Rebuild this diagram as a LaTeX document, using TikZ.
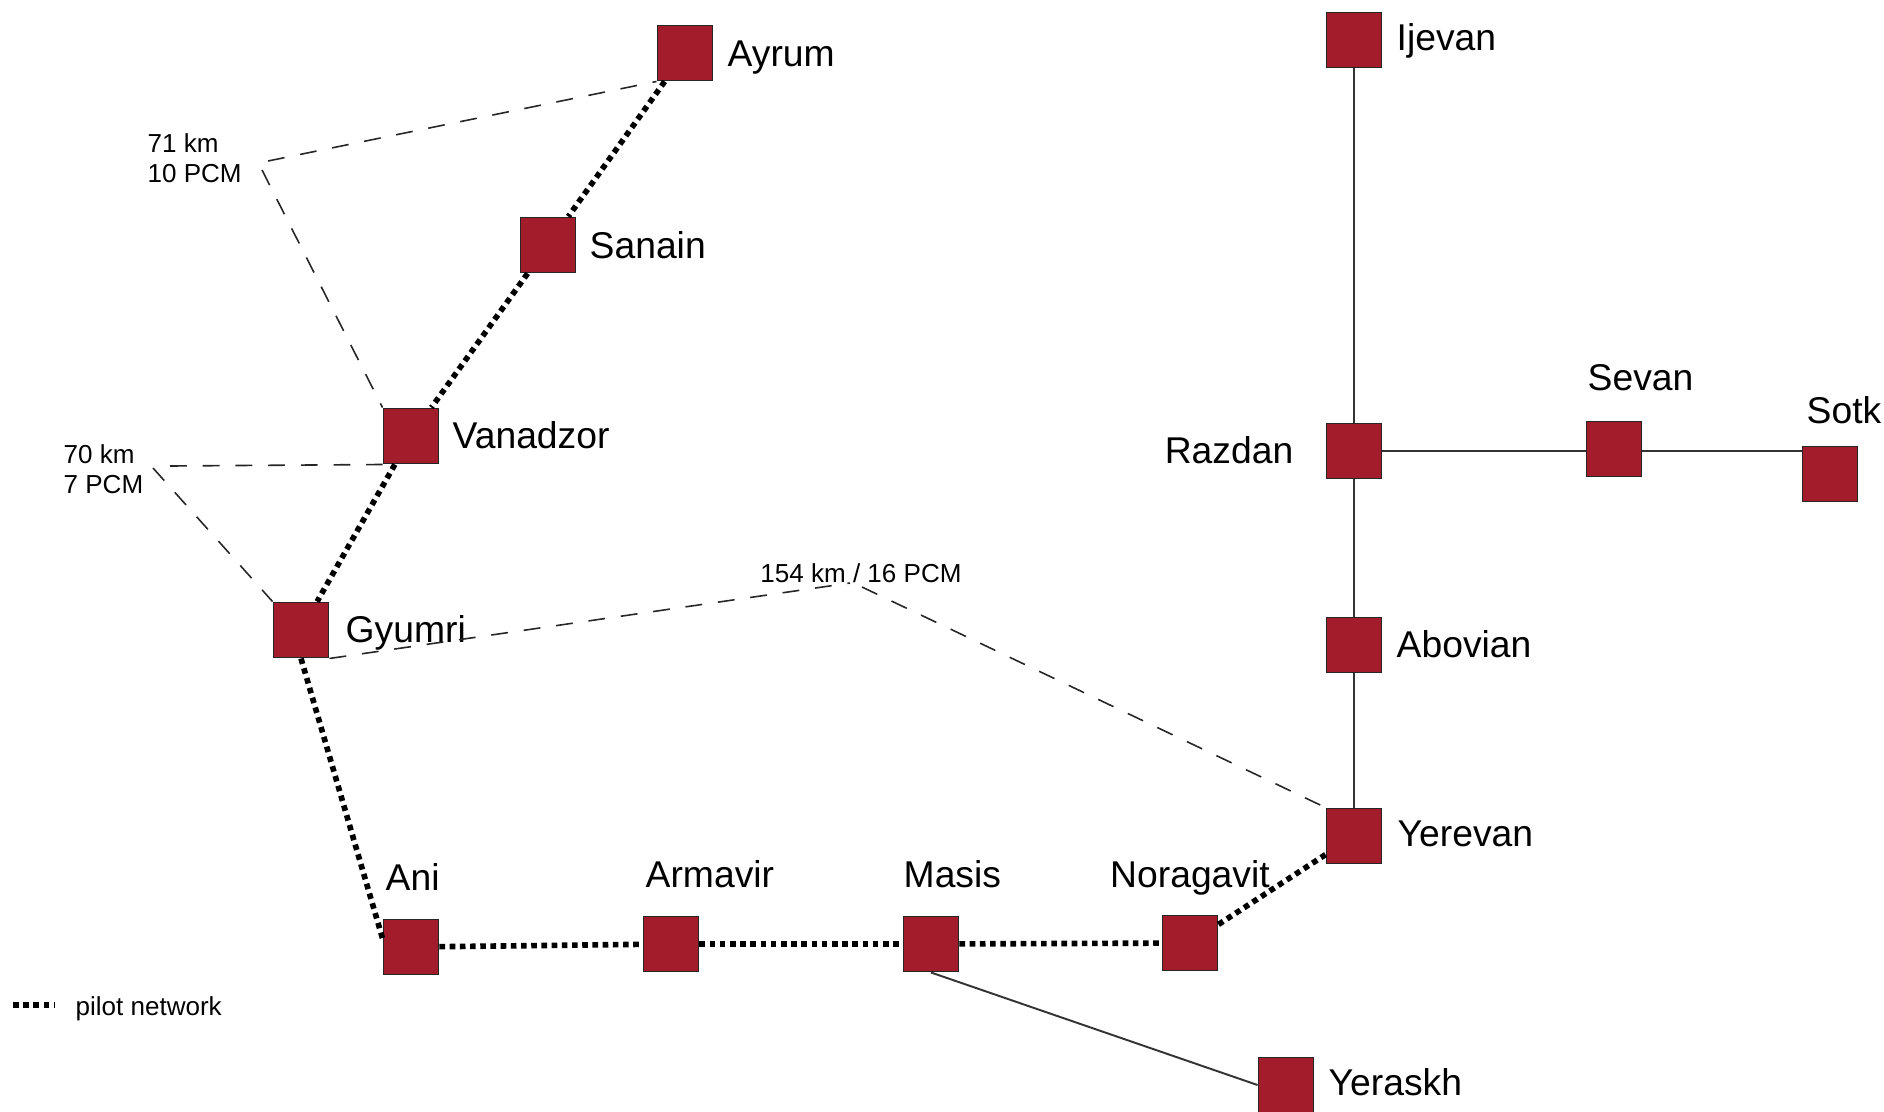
\documentclass[tikz,border=0pt]{standalone}
\usepackage{fontspec}
\setmainfont{Liberation Sans}
\usepackage{xcolor}
\usetikzlibrary{calc}
\definecolor{townred}{RGB}{163,28,43}

\begin{document}
\begin{tikzpicture}[x=0.01cm, y=-0.01cm,
    town/.style={draw=black!85, line width=0.4pt, fill=townred, minimum size=0.555cm, inner sep=0pt},
    townname/.style={inner sep=0pt, font=\fontsize{10.6}{12.7}\selectfont},
    dist/.style={inner sep=0pt, align=left, font=\fontsize{7.4}{8.5}\selectfont},
    road/.style={line width=0.55pt, black!80},
    pilot/.style={line width=1.6pt, dash pattern=on 1.6pt off 1.3pt},
    link/.style={line width=0.45pt, black!85, dash pattern=on 4.8pt off 4.5pt}]

  \useasboundingbox (0,0) rectangle (1884,1111);

  % Towns
  \node[town] (ayrum) at (685,53) {};
  \node[town] (sanain) at (548,245) {};
  \node[town] (vanadzor) at (411,436) {};
  \node[town] (gyumri) at (301,630) {};
  \node[town] (ani) at (411,947) {};
  \node[town] (armavir) at (671,944) {};
  \node[town] (masis) at (931,944) {};
  \node[town] (noragavit) at (1190,943) {};
  \node[town] (yerevan) at (1354,836) {};
  \node[town] (abovian) at (1354,645) {};
  \node[town] (razdan) at (1354,451) {};
  \node[town] (ijevan) at (1354,40) {};
  \node[town] (sevan) at (1614,449) {};
  \node[town] (sotk) at (1830,474) {};
  \node[town] (yeraskh) at (1286,1085) {};

  % Town names
  \node[townname, anchor=base west] (ayrumL) at (727,66) {Ayrum};
  \node[townname, anchor=base west] (sanainL) at (589,258) {Sanain};
  \node[townname, anchor=base west] (vanadzorL) at (452,448) {Vanadzor};
  \node[townname, anchor=base west] (gyumriL) at (345,642) {Gyumri};
  \node[townname, anchor=base west] (aniL) at (385,890) {Ani};
  \node[townname, anchor=base west] (armavirL) at (645,887) {Armavir};
  \node[townname, anchor=base west] (masisL) at (903,887) {Masis};
  \node[townname, anchor=base] (noragavitL) at (1190,887) {Noragavit};
  \node[townname, anchor=base west] (yerevanL) at (1397,846) {Yerevan};
  \node[townname, anchor=base west] (abovianL) at (1396,657) {Abovian};
  \node[townname, anchor=base east] (razdanL) at (1294,463) {Razdan};
  \node[townname, anchor=base west] (ijevanL) at (1396,50) {Ijevan};
  \node[townname, anchor=base west] (sevanL) at (1587,390) {Sevan};
  \node[townname, anchor=base west] (sotkL) at (1806,423) {Sotk};
  \node[townname, anchor=base west] (yeraskhL) at (1328,1095) {Yeraskh};

  % Links
  \draw[road] (ijevan) -- (razdan);
  \draw[road] (razdan) -- (abovian);
  \draw[road] (abovian) -- (yerevan);
  \draw[road] (razdan.east) -- (razdan.east -| sevan.west);
  \draw[road] (razdan.east -| sevan.east) -- (razdan.east -| sotk.west);
  \draw[road] (masis.south) -- (yeraskh.west);

  % Pilot network
  \foreach \a/\b in {ayrum/sanain, sanain/vanadzor, vanadzor/gyumri,
      ani/armavir, armavir/masis, masis/noragavit, noragavit/yerevan}
    \draw[pilot] (\a) -- (\b);
  \draw[pilot] (gyumri.south) -- ($(ani.north west)!0.35!(ani.south west)$);

  % Distances
  \node[dist, anchor=west] (d71) at (147,158) {71 km\\10 PCM};
  \node[dist, anchor=west] (d70) at (63,469) {70 km\\7 PCM};
  \node[dist, anchor=base] (d154) at (861,582) {154 km / 16 PCM};

  \coordinate (k71a) at (268,161);
  \coordinate (k71b) at (262,170);
  \coordinate (k70a) at (170,466);
  \coordinate (k70b) at (153,468);
  \coordinate (k154a) at (850,583);
  \coordinate (k154b) at (862,587);

  \draw[link] (k71a) -- (ayrum.south west);
  \draw[link] (k71b) -- (vanadzor.north west);
  \draw[link] (k70a) -- (vanadzor.south west);
  \draw[link] (k70b) -- (gyumri.north west);
  \draw[link] (gyumri.south east) -- (k154a);
  \draw[link] (k154b) -- (yerevan.north west);

  % Legend
  \coordinate (legA) at (13,1005);
  \coordinate (legB) at (55,1005);
  \draw[pilot] (legA) -- (legB);
  \node[dist, anchor=base west] (legL) at (75,1015) {pilot network};

\end{tikzpicture}
\end{document}
